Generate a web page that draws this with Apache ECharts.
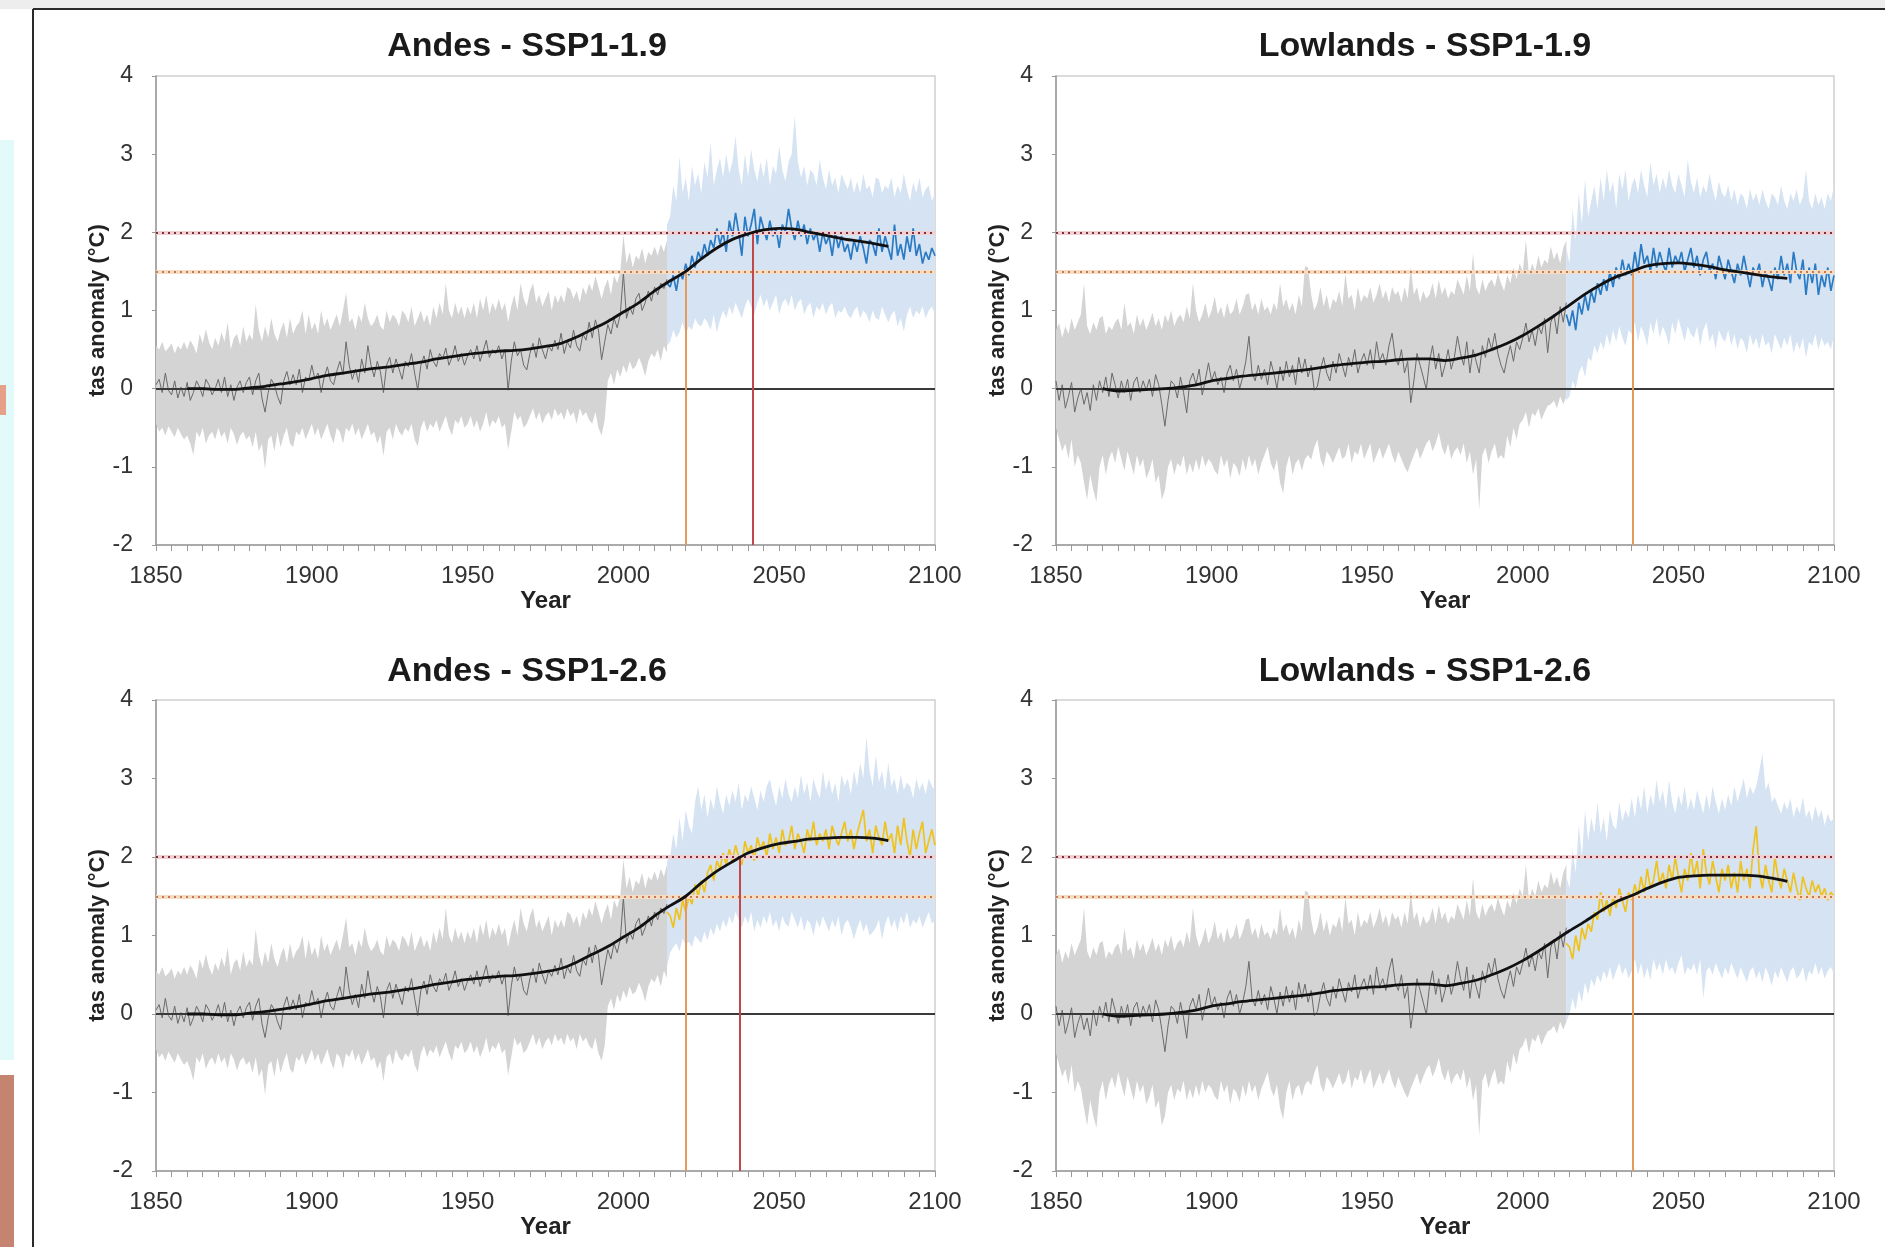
<!DOCTYPE html>
<html><head><meta charset="utf-8">
<script src="https://cdn.jsdelivr.net/npm/echarts@6/dist/echarts.min.js"></script>
<style>html,body{margin:0;padding:0;background:#fff}#c{width:1885px;height:1247px}</style>
</head><body><div id="c"></div>
<script>
// ---------- DATA ----------
const HIST_START = 1850;   // historical series run 1850..2014
const FUT_START = 2014;    // scenario series run 2014..2100
const ANDES_SMOOTH_START = 1860, LOWL_SMOOTH_START = 1865, SMOOTH_STEP = 5;
const xTicks = [1850, 1900, 1950, 2000, 2050, 2100];
const yTicks = [-2, -1, 0, 1, 2, 3, 4];
const thresholds = [2.0, 1.5];
const titles = ["Andes - SSP1-1.9", "Lowlands - SSP1-1.9", "Andes - SSP1-2.6", "Lowlands - SSP1-2.6"];

// Andes historical (shared by both scenarios)
const andesHistLine = [
0.05,0.12,-0.05,0.2,-0.02,-0.08,0.1,-0.12,0.02,-0.1,
0.08,-0.15,-0.05,0.1,0.02,-0.1,0.12,0.05,-0.08,0.0,
0.12,-0.05,0.15,-0.1,0.05,-0.15,0.02,0.1,-0.05,0.08,
0.15,-0.08,0.1,0.2,-0.12,-0.3,-0.05,0.12,0.05,-0.1,
-0.2,0.1,0.22,0.05,0.18,0.05,0.25,-0.05,0.15,0.1,
0.3,0.12,0.2,-0.05,0.15,0.28,0.1,0.05,0.22,0.35,
0.18,0.6,0.3,0.12,0.25,0.08,0.38,0.2,0.55,0.3,
0.15,0.35,0.22,-0.05,0.3,0.4,0.2,0.38,0.25,0.12,
0.35,0.28,0.45,0.2,-0.02,0.3,0.42,0.25,0.5,0.35,
0.28,0.45,0.38,0.52,0.3,0.4,0.55,0.35,0.45,0.3,
0.42,0.5,0.38,0.55,0.35,0.48,0.62,0.4,0.5,0.45,
0.55,0.38,0.5,-0.02,0.35,0.6,0.42,0.5,0.3,0.24,
0.45,0.58,0.4,0.65,0.5,0.38,0.55,0.48,0.62,0.5,
0.71,0.45,0.6,0.52,0.75,0.55,0.48,0.7,0.62,0.85,
0.65,0.88,0.75,0.37,0.6,0.82,0.7,0.9,0.78,0.95,
1.48,0.9,1.05,0.95,1.15,1.22,1.0,1.1,1.25,1.12,
1.3,1.2,1.35,1.28,1.4];
const andesHistHigh = [
0.55,0.5,0.6,0.48,0.52,0.58,0.45,0.55,0.5,0.6,
0.5,0.62,0.55,0.45,0.7,0.58,0.76,0.6,0.5,0.65,
0.55,0.72,0.6,0.85,0.5,0.65,0.7,0.55,0.8,0.6,
0.7,0.62,1.08,0.75,0.6,0.8,0.65,0.9,0.7,0.6,
0.75,0.85,0.65,0.9,0.7,0.8,0.85,1.0,0.7,0.95,
0.75,0.85,0.7,1.0,0.8,0.9,0.75,0.85,0.95,0.8,
1.0,1.23,0.85,0.9,0.75,0.95,0.85,1.1,0.9,0.8,
0.85,0.95,0.8,0.75,1.0,0.85,0.95,0.9,0.8,1.0,
0.95,0.85,1.05,0.8,0.9,1.0,0.85,0.95,0.8,1.05,
0.9,1.1,0.95,1.35,1.0,0.9,1.1,0.95,1.05,0.9,
1.05,0.95,1.1,0.9,1.15,1.0,1.2,0.95,1.1,1.0,
1.15,1.0,1.1,0.85,1.05,1.2,1.0,1.35,1.15,1.05,
1.25,1.35,1.1,1.2,1.05,1.15,1.25,1.0,1.2,1.1,
1.2,1.1,1.3,1.27,1.15,1.25,1.1,1.3,1.2,1.35,
1.25,1.44,1.3,1.15,1.3,1.4,1.2,1.45,1.35,1.5,
1.97,1.6,1.75,1.55,1.7,1.65,1.8,1.6,1.75,1.7,
1.82,1.7,1.85,1.75,1.9];
const andesHistLow = [
-0.45,-0.55,-0.5,-0.6,-0.48,-0.55,-0.62,-0.5,-0.58,-0.65,
-0.6,-0.7,-0.85,-0.55,-0.62,-0.5,-0.7,-0.6,-0.55,-0.65,
-0.5,-0.62,-0.55,-0.7,-0.5,-0.58,-0.72,-0.6,-0.55,-0.65,
-0.6,-0.75,-0.55,-0.8,-0.7,-1.03,-0.65,-0.6,-0.8,-0.55,
-0.75,-0.6,-0.5,-0.7,-0.75,-0.55,-0.6,-0.5,-0.65,-0.55,
-0.45,-0.6,-0.5,-0.65,-0.55,-0.45,-0.6,-0.7,-0.5,-0.55,
-0.7,-0.5,-0.55,-0.45,-0.6,-0.5,-0.65,-0.55,-0.45,-0.6,
-0.55,-0.7,-0.6,-0.86,-0.55,-0.5,-0.65,-0.45,-0.55,-0.6,
-0.5,-0.55,-0.45,-0.65,-0.74,-0.5,-0.4,-0.55,-0.45,-0.5,
-0.4,-0.55,-0.45,-0.35,-0.5,-0.6,-0.4,-0.45,-0.35,-0.5,
-0.45,-0.35,-0.5,-0.4,-0.55,-0.45,-0.3,-0.5,-0.4,-0.45,
-0.35,-0.5,-0.45,-0.78,-0.55,-0.3,-0.4,-0.35,-0.5,-0.45,
-0.35,-0.25,-0.4,-0.3,-0.45,-0.35,-0.3,-0.4,-0.25,-0.35,
-0.3,-0.4,-0.25,-0.35,-0.3,-0.45,-0.25,-0.35,-0.3,-0.4,
-0.45,-0.3,-0.5,-0.6,-0.4,0.1,0.2,0.05,0.25,0.15,
0.3,0.2,0.35,0.25,0.29,0.4,0.3,0.16,0.35,0.45,
0.4,0.5,0.35,0.55,0.46];

// Lowlands historical (shared by both scenarios)
const lowlHistLine = [
0.1,-0.15,0.05,-0.25,-0.1,0.08,-0.3,-0.12,0.0,-0.2,
-0.05,-0.28,0.05,-0.15,0.1,-0.05,0.15,-0.1,0.2,0.05,
-0.12,0.1,-0.05,0.12,-0.15,0.08,0.15,-0.05,0.1,-0.02,
0.12,-0.1,0.18,0.05,-0.2,-0.48,-0.15,0.1,0.05,-0.12,
0.15,-0.05,-0.31,0.1,0.2,0.05,0.25,-0.08,0.12,0.33,
0.1,0.22,0.05,0.15,-0.05,0.2,0.3,0.1,0.25,0.0,
0.15,0.35,0.67,0.2,0.1,0.3,0.12,0.25,0.05,0.35,
0.2,0.0,0.28,0.1,0.35,0.15,0.3,0.05,0.4,0.2,
0.38,0.15,0.3,-0.02,0.03,0.25,0.4,0.2,0.1,0.35,
0.2,0.45,0.3,0.15,0.4,0.28,0.5,0.2,0.35,0.45,
0.3,0.5,0.25,0.6,0.35,0.45,0.3,0.55,0.71,0.4,
0.3,0.5,0.2,0.35,-0.18,0.1,0.45,0.3,0.15,-0.01,
0.35,0.55,0.25,0.45,0.15,0.3,0.5,0.25,0.4,0.67,
0.45,0.3,0.6,0.2,0.5,0.35,0.2,0.55,0.4,0.65,
0.5,0.71,0.45,0.3,0.2,0.4,0.55,0.35,0.6,0.5,
0.65,0.84,0.6,0.75,0.55,0.8,0.7,0.9,0.46,0.85,
0.95,0.7,1.05,0.85,1.1];
const lowlHistHigh = [
0.75,0.84,0.65,0.8,0.7,0.9,0.75,0.85,0.95,1.35,
0.8,0.7,0.85,0.75,0.9,0.93,0.7,0.8,0.75,0.85,
0.9,0.75,1.1,0.8,0.85,0.7,0.95,0.8,0.9,0.75,
0.85,0.97,0.8,0.9,0.75,0.95,0.85,1.0,0.8,0.9,
0.95,0.85,1.05,0.9,1.35,1.0,0.85,0.95,1.1,0.9,
1.0,1.18,0.95,1.05,0.9,1.1,0.95,1.0,1.15,0.95,
1.05,1.2,1.22,1.0,1.1,0.95,1.15,1.0,1.05,0.95,
1.1,1.0,1.35,1.05,1.15,1.0,1.1,0.95,1.2,1.05,
1.57,1.55,1.2,1.0,1.1,1.3,1.05,1.2,1.0,1.15,
1.1,1.25,1.05,1.48,1.15,1.2,1.0,1.3,1.1,1.2,
1.15,1.3,1.1,1.2,1.35,1.15,1.26,1.1,1.3,1.2,
1.25,1.1,1.3,1.15,1.56,1.2,1.3,1.1,1.25,1.15,
1.2,1.35,1.15,1.39,1.2,1.3,1.15,1.25,1.2,1.4,
1.3,1.2,1.45,1.25,1.73,1.3,1.2,1.4,1.25,1.35,
1.4,1.3,1.48,1.35,1.25,1.45,1.35,1.55,1.4,1.6,
1.5,1.9,1.45,1.6,1.5,1.7,1.55,1.65,1.6,1.82,
1.65,1.75,1.6,1.8,1.9];
const lowlHistLow = [
-0.5,-0.65,-0.8,-0.7,-0.9,-0.65,-1.0,-0.85,-0.95,-1.2,
-1.42,-1.1,-1.3,-1.45,-1.0,-0.85,-1.1,-0.9,-0.8,-0.95,
-0.74,-0.9,-1.05,-0.8,-0.95,-1.1,-0.85,-1.0,-0.9,-1.15,
-1.05,-0.9,-1.2,-1.1,-1.42,-1.3,-1.0,-0.9,-1.1,-0.95,
-1.0,-0.85,-1.1,-0.95,-1.08,-0.9,-1.05,-0.85,-1.0,-0.9,
-0.95,-1.05,-1.1,-0.85,-1.0,-0.9,-1.15,-0.95,-1.0,-1.12,
-0.9,-1.05,-0.85,-1.0,-0.9,-1.1,-0.95,-0.85,-0.74,-0.95,
-1.05,-0.9,-1.2,-1.34,-1.0,-0.85,-1.1,-0.95,-0.9,-1.05,
-0.9,-0.85,-0.91,-0.75,-0.65,-0.9,-1.0,-0.8,-0.86,-0.95,
-0.85,-0.75,-0.9,-0.86,-0.7,-0.95,-0.8,-0.85,-0.7,-0.9,
-0.8,-0.7,-0.95,-0.85,-0.75,-0.9,-0.8,-0.7,-0.85,-0.95,
-0.8,-0.9,-1.0,-1.07,-0.95,-0.85,-0.75,-0.9,-0.8,-0.7,
-0.65,-0.8,-0.7,-0.56,-0.75,-0.85,-0.7,-0.9,-0.8,-0.75,
-0.85,-0.7,-0.95,-0.8,-1.1,-0.9,-1.55,-0.85,-0.75,-0.95,
-0.8,-0.7,-0.9,-0.85,-0.9,-0.6,-0.75,-0.5,-0.65,-0.45,
-0.4,-0.3,-0.5,-0.31,-0.35,-0.25,-0.4,-0.3,-0.22,-0.2,
-0.15,-0.25,-0.1,-0.2,-0.1];

// Andes SSP1-1.9 (2014..2100)
const andes19Line = [1.35,
1.3,1.45,1.25,1.5,1.4,1.6,1.45,1.7,1.55,1.75,
1.65,1.85,1.7,1.9,1.8,2.05,1.85,2.0,1.75,2.15,
1.95,2.25,2.0,1.7,2.2,1.95,2.1,2.3,1.85,2.2,
2.05,1.9,2.15,1.95,2.05,1.8,2.1,2.0,2.3,2.05,
1.9,2.15,1.95,2.1,1.85,2.05,1.9,2.0,1.75,2.0,
1.85,1.95,1.7,2.0,1.8,1.95,1.75,1.85,1.65,1.9,
1.75,1.95,1.8,1.6,1.9,1.85,1.7,2.05,1.75,1.95,
1.8,1.65,2.1,1.7,1.85,1.65,1.95,1.75,2.05,1.7,
1.85,1.6,1.75,1.65,1.8,1.7];
const andes19High = [2.1,
2.2,2.6,2.4,2.97,2.5,2.7,2.4,2.85,2.6,2.75,
2.5,2.9,2.7,3.15,2.6,2.8,2.95,2.7,3.0,2.75,
2.9,3.23,2.8,2.6,3.0,2.7,3.06,2.8,2.65,2.9,
2.7,2.95,2.6,2.85,2.75,3.1,2.8,2.65,2.9,3.0,
3.49,2.9,2.7,2.85,2.6,2.8,2.75,2.6,2.93,2.7,
2.55,2.8,2.6,2.7,2.5,2.75,2.64,2.55,2.7,2.5,
2.65,2.5,2.75,2.55,2.6,2.45,2.7,2.68,2.5,2.6,
2.55,2.7,2.45,2.6,2.5,2.75,2.55,2.4,2.64,2.5,
2.7,2.45,2.55,2.6,2.4,2.5];
const andes19Low = [0.55,
0.6,0.75,0.65,0.72,0.85,0.7,0.8,0.75,0.9,0.82,
0.8,0.9,0.85,0.75,0.95,0.72,0.88,1.0,0.9,1.05,
0.95,1.1,1.0,0.9,1.05,1.15,1.05,0.95,1.1,1.2,
1.05,1.15,1.0,1.1,1.2,0.95,1.1,1.15,1.05,1.2,
1.0,1.1,1.15,0.95,1.05,1.1,0.9,1.05,1.0,1.1,
0.95,1.05,1.1,0.9,1.0,0.97,1.05,0.95,0.9,1.0,
1.05,0.9,1.0,0.95,0.85,1.0,0.9,0.88,1.05,0.95,
0.85,0.95,1.0,0.8,0.9,0.73,0.95,1.05,0.9,1.0,
0.95,1.05,0.9,1.0,1.05,0.95];

// Andes SSP1-2.6 (2014..2100)
const andes26Line = [1.3,
1.25,1.1,1.35,1.2,1.45,1.3,1.5,1.4,1.65,1.5,
1.7,1.55,1.8,1.9,1.7,1.95,1.85,2.05,1.9,2.1,
1.95,2.15,2.0,1.9,2.2,2.05,2.15,1.95,2.25,2.1,
2.2,2.0,2.3,2.1,2.25,2.05,2.35,2.15,2.2,2.4,
2.1,2.3,2.2,2.05,2.35,2.2,2.45,2.15,2.3,2.2,
2.35,2.1,2.4,2.25,2.15,2.3,2.45,2.2,2.35,2.1,
2.3,2.45,2.6,2.2,2.35,2.05,2.4,2.25,2.15,2.45,
2.2,2.3,2.05,2.4,2.15,2.5,2.2,2.0,2.35,2.1,
2.3,2.45,2.05,2.2,2.35,2.15];
const andes26High = [1.95,
2.0,2.3,2.1,2.5,2.2,2.6,2.4,2.3,2.7,2.9,
2.6,2.8,2.5,2.75,2.6,2.9,2.7,2.55,2.8,2.65,
2.85,2.7,2.95,2.6,2.8,2.7,2.9,2.75,2.6,2.85,
2.7,2.9,2.99,2.8,2.65,2.9,2.75,3.0,2.8,2.7,
2.9,2.75,3.05,2.8,2.95,2.7,3.0,2.85,2.75,3.1,
2.85,3.0,2.8,2.95,2.7,3.05,2.9,3.0,2.8,3.1,
2.9,3.2,3.0,3.53,3.1,2.9,3.3,2.95,3.1,2.85,
3.2,2.9,3.0,2.8,3.05,2.85,2.95,2.9,2.75,3.0,
2.85,2.95,2.8,3.0,2.9,2.85];
const andes26Low = [0.6,
0.78,0.85,0.9,0.8,0.96,0.88,0.92,0.85,1.0,0.95,
0.9,1.05,0.94,1.1,1.0,1.15,1.05,1.2,1.1,1.25,
1.15,1.3,1.2,1.1,1.25,1.15,1.3,1.05,1.2,1.1,
1.25,1.15,1.3,1.11,1.2,1.05,1.25,1.15,1.11,1.3,
1.2,1.1,1.25,1.05,1.2,1.15,1.0,1.2,1.1,1.25,
1.15,1.05,1.2,1.1,1.25,1.0,1.15,1.2,1.1,0.95,
1.1,1.2,1.05,1.15,1.0,1.04,1.1,1.2,0.95,1.15,
1.25,1.1,1.2,1.05,1.25,1.15,1.3,1.1,1.2,1.15,
1.25,1.1,1.2,1.3,1.15,1.2];

// Lowlands SSP1-1.9 (2014..2100)
const lowl19Line = [0.95,
0.8,1.0,0.75,1.1,0.95,1.2,1.0,1.25,1.1,1.35,
1.2,1.4,1.25,1.5,1.3,1.55,1.4,1.65,1.45,1.6,
1.45,1.75,1.5,1.85,1.6,1.7,1.5,1.8,1.55,1.75,
1.6,1.5,1.8,1.55,1.7,1.6,1.75,1.5,1.65,1.8,
1.55,1.7,1.45,1.65,1.75,1.5,1.6,1.4,1.7,1.55,
1.4,1.65,1.5,1.35,1.6,1.45,1.7,1.5,1.3,1.55,
1.45,1.6,1.3,1.5,1.4,1.25,1.55,1.4,1.7,1.45,
1.6,1.35,1.75,1.5,1.4,1.65,1.2,1.55,1.35,1.6,
1.2,1.45,1.3,1.55,1.25,1.45];
const lowl19High = [1.8,
1.6,2.3,1.9,2.5,2.1,2.68,2.2,2.4,2.6,2.3,
2.7,2.4,2.8,2.5,2.65,2.3,2.75,2.55,2.8,2.4,
2.6,2.7,2.5,2.8,2.6,2.45,2.9,2.6,2.75,2.5,
2.7,2.55,2.8,2.6,2.5,2.75,2.6,2.45,2.93,2.65,
2.5,2.7,2.45,2.6,2.5,2.75,2.55,2.4,2.65,2.5,
2.45,2.6,2.4,2.55,2.35,2.5,2.45,2.3,2.55,2.4,
2.5,2.35,2.55,2.4,2.3,2.5,2.45,2.35,2.6,2.4,
2.3,2.5,2.4,2.55,2.35,2.45,2.8,2.4,2.3,2.5,
2.35,2.45,2.3,2.5,2.4,2.6];
const lowl19Low = [-0.15,
-0.1,0.1,0.0,0.2,0.3,0.15,0.4,0.35,0.55,0.45,
0.6,0.5,0.7,0.55,0.75,0.6,0.8,0.65,0.55,0.75,
0.7,0.85,0.6,0.8,0.7,0.55,0.85,0.7,0.9,0.65,
0.8,0.7,0.55,0.85,0.7,0.9,0.75,0.6,0.8,0.7,
0.65,0.8,0.55,0.75,0.85,0.6,0.7,0.5,0.75,0.65,
0.6,0.75,0.55,0.7,0.5,0.65,0.6,0.45,0.7,0.55,
0.65,0.5,0.7,0.55,0.6,0.45,0.7,0.6,0.5,0.65,
0.55,0.7,0.45,0.6,0.5,0.65,0.4,0.6,0.55,0.7,
0.5,0.65,0.55,0.6,0.5,0.7];

// Lowlands SSP1-2.6 (2014..2100)
const lowl26Line = [0.9,
0.85,0.7,1.0,0.8,1.1,0.95,1.15,1.05,1.3,1.2,
1.55,1.3,1.45,1.25,1.5,1.35,1.6,1.45,1.3,1.55,
1.45,1.65,1.5,1.75,1.55,1.85,1.6,1.7,1.95,1.65,
1.8,1.6,1.9,1.7,2.0,1.75,1.55,1.85,1.7,2.05,
1.75,1.95,1.6,2.1,1.8,1.65,1.95,1.75,1.55,1.85,
1.7,1.9,1.6,1.8,1.55,1.95,1.7,1.85,1.6,2.1,
2.39,1.8,1.6,1.9,1.7,1.55,2.0,1.75,1.6,1.85,
1.7,1.55,1.8,1.6,1.45,1.75,1.6,1.5,1.7,1.55,
1.65,1.5,1.6,1.45,1.55,1.5];
const lowl26High = [1.75,
1.6,2.1,1.8,2.4,2.0,2.6,2.2,2.5,2.3,2.69,
2.3,2.5,2.2,2.6,2.4,2.35,2.7,2.45,2.6,2.5,
2.75,2.5,2.8,2.6,2.9,2.55,2.8,2.65,2.98,2.7,
2.85,2.6,2.98,2.7,2.55,2.8,2.65,2.9,2.6,2.75,
2.6,2.85,2.7,2.55,2.8,2.6,2.9,2.7,2.55,2.75,
2.6,2.8,2.65,2.9,2.7,2.85,3.0,2.75,2.9,2.8,
2.9,3.1,3.32,2.85,2.95,2.7,2.76,2.65,2.55,2.7,
2.6,2.75,2.5,2.65,2.55,2.76,2.5,2.6,2.45,2.65,
2.5,2.6,2.4,2.55,2.45,2.5];
const lowl26Low = [-0.1,
0.0,0.2,0.05,0.3,0.15,0.4,0.25,0.45,0.35,0.5,
0.4,0.55,0.45,0.6,0.43,0.55,0.65,0.5,0.6,0.45,
0.55,0.7,0.5,0.65,0.45,0.6,0.43,0.7,0.55,0.65,
0.5,0.7,0.55,0.6,0.5,0.65,0.75,0.5,0.6,0.55,
0.65,0.5,0.7,0.2,0.55,0.6,0.5,0.65,0.55,0.45,
0.6,0.5,0.65,0.55,0.45,0.6,0.5,0.4,0.55,0.6,
0.45,0.55,0.4,0.6,0.5,0.36,0.55,0.45,0.6,0.5,
0.4,0.55,0.6,0.45,0.5,0.6,0.4,0.55,0.5,0.65,
0.5,0.6,0.45,0.55,0.6,0.5];

// Smoothed (black) curves, every 5 years
const andes19Smooth = [0.0,0.0,-0.01,-0.01,0.01,0.03,0.06,0.09,0.13,0.17,0.2,0.23,0.26,0.28,0.31,0.34,0.38,0.41,0.44,0.46,0.48,0.49,0.51,0.54,0.58,0.66,0.76,0.86,0.98,1.1,1.25,1.38,1.5,1.66,1.8,1.91,1.98,2.03,2.05,2.04,2.0,1.96,1.92,1.89,1.86,1.82];
const andes26Smooth = [0.0,0.0,-0.01,-0.01,0.01,0.03,0.06,0.09,0.13,0.17,0.2,0.23,0.26,0.28,0.31,0.34,0.38,0.41,0.44,0.46,0.48,0.49,0.51,0.54,0.58,0.66,0.76,0.86,0.98,1.1,1.25,1.38,1.5,1.67,1.82,1.94,2.05,2.12,2.17,2.2,2.23,2.24,2.25,2.25,2.24,2.21];
const lowl19Smooth = [0.0,-0.03,-0.02,-0.01,0.0,0.02,0.05,0.1,0.13,0.16,0.18,0.2,0.22,0.24,0.27,0.3,0.32,0.34,0.35,0.37,0.38,0.38,0.36,0.39,0.43,0.5,0.58,0.68,0.8,0.93,1.07,1.21,1.33,1.43,1.5,1.57,1.6,1.61,1.59,1.56,1.52,1.49,1.46,1.43,1.41];
const lowl26Smooth = [0.0,-0.03,-0.02,-0.01,0.0,0.02,0.05,0.1,0.13,0.16,0.18,0.2,0.22,0.24,0.27,0.3,0.32,0.34,0.35,0.37,0.38,0.38,0.36,0.39,0.43,0.5,0.58,0.68,0.8,0.93,1.06,1.18,1.31,1.43,1.51,1.6,1.68,1.74,1.76,1.77,1.77,1.77,1.76,1.73,1.69];

// Years where the smoothed curve crosses 1.5 °C and 2.0 °C
const andes19Cross = [[2020, 1.5], [2041.5, 2.0]];
const andes26Cross = [[2020, 1.5], [2037.3, 2.0]];
const lowl19Cross = [[2035.3, 1.5]];
const lowl26Cross = [[2035.3, 1.5]];

// ---------- CHART ----------
const FONT = '"Liberation Sans", Arial, sans-serif';
const grids = [
  {left:156, top:76, width:779, height:469},
  {left:1056, top:76, width:778, height:469},
  {left:156, top:700, width:779, height:471},
  {left:1056, top:700, width:778, height:471}
];
const titleX = [522, 1420, 522, 1420];
const titleY = [25, 25, 650, 650];

const panels = [
  {hl:andesHistLine, hh:andesHistHigh, hlo:andesHistLow, fl:andes19Line, fh:andes19High, flo:andes19Low, col:'#2b7bc4', sm:andes19Smooth, ss:ANDES_SMOOTH_START, cr:andes19Cross},
  {hl:lowlHistLine, hh:lowlHistHigh, hlo:lowlHistLow, fl:lowl19Line, fh:lowl19High, flo:lowl19Low, col:'#2b7bc4', sm:lowl19Smooth, ss:LOWL_SMOOTH_START, cr:lowl19Cross},
  {hl:andesHistLine, hh:andesHistHigh, hlo:andesHistLow, fl:andes26Line, fh:andes26High, flo:andes26Low, col:'#f0c21e', sm:andes26Smooth, ss:ANDES_SMOOTH_START, cr:andes26Cross},
  {hl:lowlHistLine, hh:lowlHistHigh, hlo:lowlHistLow, fl:lowl26Line, fh:lowl26High, flo:lowl26Low, col:'#f0c21e', sm:lowl26Smooth, ss:LOWL_SMOOTH_START, cr:lowl26Cross}
];

const pair = (start, arr, step) => arr.map((v, i) => [start + i * (step || 1), v]);

// envelope between two annual series, drawn as one polygon through the axis scales
function bandSeries(k, start, lo, hi, color) {
  const data = lo.map((v, i) => [start + i, v, hi[i]]);
  return {
    type:'custom', xAxisIndex:k, yAxisIndex:k, silent:true, z:1, animation:false,
    data:data, encode:{x:0, y:[1, 2]},
    renderItem:function (params, api) {
      if (params.dataIndex !== 0) return null;
      const pts = [];
      for (let i = 0; i < data.length; i++) pts.push(api.coord([data[i][0], data[i][2]]));
      for (let i = data.length - 1; i >= 0; i--) pts.push(api.coord([data[i][0], data[i][1]]));
      return {type:'polygon', shape:{points:pts}, style:{fill:color, stroke:null}};
    }
  };
}

const xAxes = [], yAxes = [], series = [], titleOpts = [];
panels.forEach((p, k) => {
  xAxes.push({
    gridIndex:k, type:'value', min:xTicks[0], max:xTicks[xTicks.length-1], interval:50,
    name:'Year', nameLocation:'middle', nameGap:44,
    nameTextStyle:{fontFamily:FONT, fontWeight:'bold', fontSize:24, color:'#222'},
    axisLine:{show:true, onZero:false, lineStyle:{color:'#9a9a9a', width:1.5}},
    axisTick:{show:true, length:6, lineStyle:{color:'#9a9a9a'}},
    minorTick:{show:true, splitNumber:10, length:6, lineStyle:{color:'#9a9a9a'}},
    splitLine:{show:false}, minorSplitLine:{show:false},
    axisLabel:{fontFamily:FONT, fontSize:24, color:'#333', margin:19, formatter:v => String(v)}
  });
  yAxes.push({
    gridIndex:k, type:'value', min:yTicks[0], max:yTicks[yTicks.length-1], interval:1,
    name:'tas anomaly (°C)', nameLocation:'middle', nameGap:45,
    nameTextStyle:{fontFamily:FONT, fontWeight:'bold', fontSize:22, color:'#222'},
    axisLine:{show:true, lineStyle:{color:'#9a9a9a', width:1.5}},
    axisTick:{show:true, length:4, lineStyle:{color:'#9a9a9a'}},
    splitLine:{show:false},
    axisLabel:{fontFamily:FONT, fontSize:23, color:'#333', margin:23, formatter:v => String(v)}
  });
  titleOpts.push({text:titles[k], left:titleX[k], top:titleY[k], textAlign:'center',
    textStyle:{fontFamily:FONT, fontWeight:'bold', fontSize:34, color:'#1a1a1a'}});

  const base = {xAxisIndex:k, yAxisIndex:k, type:'line', symbol:'none', silent:true, animation:false};
  series.push(bandSeries(k, HIST_START, p.hlo, p.hh, '#d4d4d4'));
  series.push(bandSeries(k, FUT_START, p.flo, p.fh, '#d5e3f3'));
  // reference lines
  const ml = [
    {yAxis:0, lineStyle:{color:'#3a3a3a', width:1.8, type:'solid'}},
    {yAxis:thresholds[0], lineStyle:{color:'#f3d0d0', width:4, type:'solid'}},
    {yAxis:thresholds[0], lineStyle:{color:'#7e2c44', width:2, type:[2,4]}},
    {yAxis:thresholds[1], lineStyle:{color:'#f7dcc4', width:4, type:'solid'}},
    {yAxis:thresholds[1], lineStyle:{color:'#c47a4e', width:2, type:[2,4]}}
  ];
  p.cr.forEach(c => {
    const color = c[1] === thresholds[0] ? '#c0474a' : '#e39a5c';
    ml.push([{coord:[c[0], yTicks[0]], lineStyle:{color:color, width:2, type:'solid'}}, {coord:[c[0], c[1]]}]);
  });
  series.push(Object.assign({}, base, {data:[], z:2,
    markLine:{silent:true, symbol:'none', label:{show:false}, animation:false, data:ml}}));
  // annual lines
  series.push(Object.assign({}, base, {data:pair(HIST_START, p.hl), lineStyle:{color:'#6a6a6a', width:1}, z:3}));
  series.push(Object.assign({}, base, {data:pair(FUT_START, p.fl), lineStyle:{color:p.col, width:1.7}, z:4}));
  // smoothed curve
  series.push(Object.assign({}, base, {data:pair(p.ss, p.sm, SMOOTH_STEP), smooth:0.3, lineStyle:{color:'#111', width:2.8}, z:5}));
});

const chart = echarts.init(document.getElementById('c'), null, {renderer:'canvas'});
chart.setOption({
  animation:false,
  backgroundColor:'#ffffff',
  title:titleOpts,
  grid:grids.map(g => Object.assign({show:true, borderColor:'#cfcfcf', borderWidth:1.5, backgroundColor:'transparent'}, g)),
  xAxis:xAxes, yAxis:yAxes, series:series,
  graphic:[
    {type:'rect', shape:{x:0, y:0, width:1885, height:9}, style:{fill:'#ededed'}, silent:true},
    {type:'rect', shape:{x:0, y:140, width:14, height:920}, style:{fill:'#e3fafa'}, silent:true},
    {type:'rect', shape:{x:0, y:385, width:6, height:30}, style:{fill:'#e6a08a'}, silent:true},
    {type:'rect', shape:{x:0, y:1075, width:14, height:172}, style:{fill:'#c4846f'}, silent:true},
    {type:'line', shape:{x1:33, y1:9, x2:1885, y2:9}, style:{stroke:'#2a2a2a', lineWidth:2}, silent:true},
    {type:'line', shape:{x1:33, y1:9, x2:33, y2:1247}, style:{stroke:'#2a2a2a', lineWidth:2}, silent:true}
  ]
});
</script></body></html>
